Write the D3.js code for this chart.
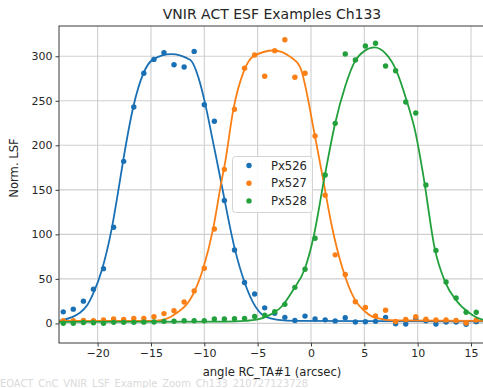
<!DOCTYPE html>
<html>
<head>
<meta charset="utf-8">
<script src="https://cdn.jsdelivr.net/npm/d3@7"></script>
<style>
  html, body { margin: 0; padding: 0; background: #fff; }
  svg { display: block; font-family: "DejaVu Sans", sans-serif; }
</style>
</head>
<body>
<svg id="chart" width="483" height="388"></svg>
<script>
// Sample angles (arcsec) shared by the three pixel responses
const angles = [-23.22, -22.28, -21.33, -20.39, -19.45, -18.50, -17.56, -16.61, -15.67, -14.72,
                -13.78, -12.84, -11.89, -10.95, -10.00, -9.06, -8.12, -7.17, -6.23, -5.28,
                -4.34, -3.40, -2.45, -1.51, -0.56, 0.38, 1.33, 2.27, 3.21, 4.16,
                5.10, 6.05, 6.99, 7.93, 8.88, 9.82, 10.77, 11.71, 12.66, 13.60,
                14.54, 15.49];

// Measured normalised LSF per pixel
const px526 = [13, 16, 25, 38.5, 61.5, 108, 182, 243, 281, 296.5,
               304, 290.5, 288, 305.5, 245.5, 227, 138, 82.5, 46, 33,
               17.5, 11.3, 6.8, 3.2, 8.2, 4.9, 4, 2.8, 6.3, 1.5,
               1.9, 2.3, 6.8, -0.3, -0.8, 5.3, 3, -0.7, 1.5, 1.5,
               -1, 2];
const px527 = [3, 3, 3.2, 3, 3.8, 4.9, 4.5, 5.7, 5.7, 7.5,
               11, 14.3, 24, 36.4, 62, 106, 173, 240.5, 286.5, 301.5,
               277.5, 306.3, 318.6, 276.4, 281, 210.5, 144, 77, 55, 24.4,
               17.8, 8.3, 14.8, 2.1, 4.4, 7.5, 4.8, 3.8, 3.8, 3.2,
               0.5, 3.8];
const px528 = [0.1, 0.1, 1, 0.7, 0.1, 1.2, 1.2, 1.2, 1.4, 1.5,
               2.3, 2.5, 3, 3, 3, 4.9, 4.9, 5.3, 5.7, 7.8,
               9.2, 13.1, 21.4, 40.5, 60.8, 95.6, 166.7, 224.7, 302.5, 295.8,
               311.5, 314.6, 289, 283.8, 248.6, 236.3, 155.4, 81.8, 46.5, 28.5,
               12.5, 12.5];

// Fitted line-spread profiles
const fit526X = [-23.62, -23.2, -22.4, -21.7, -21.0, -20.4, -19.6, -18.7, -17.9, -17.6,
                 -16.66, -15.7, -14.8, -13.1, -11.34, -10.4, -10.0, -9.2, -8.53, -7.12,
                 -6.25, -5.4, -4.3, -3.06, -1.5, 16.31];
const fit526Y = [3, 4, 7, 11.6, 20, 34, 60, 105, 161, 183,
                 243, 281, 296.5, 302.5, 296, 270, 251, 205, 165, 82.6,
                 47, 22.8, 7.7, 4, 2.8, 2.4];
const fit527X = [-23.62, -15.5, -14.5, -13.8, -12.6, -11.34, -10.1, -9.16, -8.37, -8.06,
                 -7.28, -6.3, -5.4, -3.5, -1.9, -1.03, 0.375, 1.15, 1.94, 2.9,
                 4.1, 5.06, 6.0, 7.9, 16.31];
const fit527Y = [2.7, 2.8, 3.2, 4.2, 11.6, 26.5, 62, 107, 161, 180,
                 240, 283, 300, 306.5, 299, 288, 210, 161, 110, 64,
                 27, 13.4, 6.5, 3.3, 2.8];
const fit528X = [-23.62, -8, -6.2, -5.1, -3.84, -2.75, -1.66, -0.56, 0.22, 1.31,
                 2.25, 3.2, 4.1, 5.0, 5.95, 7.0, 8.0, 8.97, 9.8, 10.53,
                 11.6, 12.56, 13.6, 14.85, 16.0, 16.31];
const fit528Y = [1.8, 2.0, 2.8, 4.2, 9.6, 19, 37.7, 62, 96, 167,
                 224, 266, 294, 306, 310, 303, 284, 250, 214, 166,
                 84, 47, 26, 11.6, 4.5, 3.8];

const seriesNames = ["Px526", "Px527", "Px528"];
const seriesColors = ["#1a70b4", "#fb7f14", "#22a03c"];
const xTicks = [-20, -15, -10, -5, 0, 5, 10, 15];
const yTicks = [0, 50, 100, 150, 200, 250, 300];

const titleText = "VNIR ACT ESF Examples Ch133";
const xLabel = "angle RC_TA#1 (arcsec)";
const yLabel = "Norm. LSF";
const footerText = "EOACT_CnC_VNIR_LSF_Example_Zoom_Ch133_210727123728";

const svg = d3.select("#chart");
const plot = { left: 59, top: 26, right: 485, bottom: 343 };

const x = d3.scaleLinear().domain([-23.62, 16.31]).range([plot.left, plot.right]);
const y = d3.scaleLinear().domain([-22, 334]).range([plot.bottom, plot.top]);

svg.append("defs").append("clipPath").attr("id", "plotClip")
  .append("rect")
  .attr("x", plot.left).attr("y", plot.top)
  .attr("width", plot.right - plot.left).attr("height", plot.bottom - plot.top);

// Grid
const grid = svg.append("g").attr("stroke", "#cfcfcf").attr("stroke-width", 1.1);
grid.selectAll(".gx").data(xTicks).join("line")
  .attr("x1", d => x(d)).attr("x2", d => x(d))
  .attr("y1", plot.top).attr("y2", plot.bottom);
grid.selectAll(".gy").data(yTicks).join("line")
  .attr("x1", plot.left).attr("x2", plot.right)
  .attr("y1", d => y(d)).attr("y2", d => y(d));

// Data and fits
const series = [
  { name: seriesNames[0], vals: px526, fx: fit526X, fy: fit526Y },
  { name: seriesNames[1], vals: px527, fx: fit527X, fy: fit527Y },
  { name: seriesNames[2], vals: px528, fx: fit528X, fy: fit528Y }
];

const line = d3.line().x(d => x(d[0])).y(d => y(d[1])).curve(d3.curveMonotoneX);
const marks = svg.append("g").attr("clip-path", "url(#plotClip)");

series.forEach((s, i) => {
  const c = seriesColors[i];
  marks.append("g").selectAll("circle")
    .data(angles.map((a, k) => [a, s.vals[k]]))
    .join("circle")
    .attr("cx", d => x(d[0])).attr("cy", d => y(d[1]))
    .attr("r", 2.7).attr("fill", c);
  marks.append("path")
    .datum(s.fx.map((a, k) => [a, s.fy[k]]))
    .attr("d", line)
    .attr("fill", "none").attr("stroke", c).attr("stroke-width", 1.8);
});

// Frame
svg.append("rect")
  .attr("x", plot.left).attr("y", plot.top)
  .attr("width", plot.right - plot.left).attr("height", plot.bottom - plot.top)
  .attr("fill", "none").attr("stroke", "#3a3a3a").attr("stroke-width", 1);

// Axes
const fmt = d => d < 0 ? "\u2212" + Math.abs(d) : String(d);
const xAxis = svg.append("g").attr("transform", `translate(0,${plot.bottom})`)
  .call(d3.axisBottom(x).tickValues(xTicks).tickFormat(fmt).tickSize(3.5).tickPadding(3));
const yAxis = svg.append("g").attr("transform", `translate(${plot.left},0)`)
  .call(d3.axisLeft(y).tickValues(yTicks).tickFormat(fmt).tickSize(3.5).tickPadding(3));
[xAxis, yAxis].forEach(a => {
  a.select(".domain").remove();
  a.selectAll(".tick line").attr("stroke", "#3a3a3a").attr("stroke-width", 1);
  a.selectAll(".tick text").attr("fill", "#262626")
    .style("font-family", "DejaVu Sans").style("font-size", "11px");
});

// Titles
svg.append("text")
  .attr("x", (plot.left + plot.right) / 2).attr("y", 19)
  .attr("text-anchor", "middle").attr("fill", "#262626")
  .style("font-size", "14px").text(titleText);
svg.append("text")
  .attr("x", (plot.left + plot.right) / 2).attr("y", 375.5)
  .attr("text-anchor", "middle").attr("fill", "#262626")
  .style("font-size", "11.6px").text(xLabel);
svg.append("text")
  .attr("transform", "translate(18,168) rotate(-90)")
  .attr("text-anchor", "middle").attr("fill", "#262626")
  .style("font-size", "11.6px").text(yLabel);

// Footer stamp
svg.append("text")
  .attr("x", 0).attr("y", 386.8)
  .attr("fill", "#dadada")
  .style("font-size", "9.9px").text(footerText);

// Legend
const lg = svg.append("g").attr("transform", "translate(232.5,156.5)");
lg.append("rect")
  .attr("width", 80).attr("height", 56).attr("rx", 3)
  .attr("fill", "#fff").attr("fill-opacity", 0.85)
  .attr("stroke", "#d3d3d3").attr("stroke-width", 1);
seriesNames.forEach((n, i) => {
  const row = lg.append("g").attr("transform", `translate(0,${9 + i * 17.7})`);
  row.append("circle").attr("cx", 16.5).attr("cy", 0).attr("r", 2.7).attr("fill", seriesColors[i]);
  row.append("text").attr("x", 38.5).attr("y", 4.2)
    .attr("fill", "#262626").style("font-size", "11.6px").text(n);
});
</script>
</body>
</html>
